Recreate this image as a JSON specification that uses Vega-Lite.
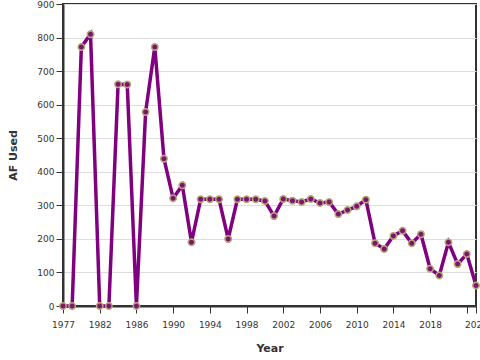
{
  "$schema": "https://vega.github.io/schema/vega-lite/v6.json",
  "autosize": "none",
  "padding": {"left": 63, "top": 4, "right": 4, "bottom": 54},
  "width": 413,
  "height": 302,
  "background": "white",
  "data": {"values": [
    {"Year": 1978, "AF": 0}, {"Year": 1979, "AF": 0}, {"Year": 1980, "AF": 772}, {"Year": 1981, "AF": 810},
    {"Year": 1982, "AF": 0}, {"Year": 1983, "AF": 0}, {"Year": 1984, "AF": 661}, {"Year": 1985, "AF": 660},
    {"Year": 1986, "AF": 0}, {"Year": 1987, "AF": 578}, {"Year": 1988, "AF": 772}, {"Year": 1989, "AF": 439},
    {"Year": 1990, "AF": 321}, {"Year": 1991, "AF": 360}, {"Year": 1992, "AF": 190}, {"Year": 1993, "AF": 318},
    {"Year": 1994, "AF": 318}, {"Year": 1995, "AF": 318}, {"Year": 1996, "AF": 200}, {"Year": 1997, "AF": 318},
    {"Year": 1998, "AF": 318}, {"Year": 1999, "AF": 318}, {"Year": 2000, "AF": 313}, {"Year": 2001, "AF": 268},
    {"Year": 2002, "AF": 319}, {"Year": 2003, "AF": 314}, {"Year": 2004, "AF": 310}, {"Year": 2005, "AF": 319},
    {"Year": 2006, "AF": 307}, {"Year": 2007, "AF": 310}, {"Year": 2008, "AF": 274}, {"Year": 2009, "AF": 286},
    {"Year": 2010, "AF": 297}, {"Year": 2011, "AF": 317}, {"Year": 2012, "AF": 187}, {"Year": 2013, "AF": 170},
    {"Year": 2014, "AF": 209}, {"Year": 2015, "AF": 224}, {"Year": 2016, "AF": 187}, {"Year": 2017, "AF": 214},
    {"Year": 2018, "AF": 111}, {"Year": 2019, "AF": 91}, {"Year": 2020, "AF": 190}, {"Year": 2021, "AF": 125},
    {"Year": 2022, "AF": 155}, {"Year": 2023, "AF": 61}
  ]},
  "config": {
    "view": {"stroke": "#333", "strokeWidth": 2},
    "axis": {
      "labelFont": "DejaVu Sans", "labelFontSize": 9, "labelColor": "#333", "labelOverlap": false, "labelBound": false, "labelFlush": false,
      "titleFont": "DejaVu Sans", "titleFontSize": 11, "titleFontWeight": "bold", "titleColor": "#333",
      "domainColor": "#333", "domainWidth": 2, "tickColor": "#333", "tickWidth": 1, "tickSize": 7,
      "gridColor": "#dddddd", "gridWidth": 1
    }
  },
  "encoding": {
    "x": {"field": "Year", "type": "quantitative",
      "scale": {"domain": [1978, 2023], "nice": false, "zero": false},
      "axis": {"grid": false, "title": "Year",
        "values": [1978, 1982, 1986, 1990, 1994, 1998, 2002, 2006, 2010, 2014, 2018, 2022, 2023],
        "labelExpr": "datum.value == 1978 ? '1977' : datum.value == 2023 ? '2022' : datum.value == 2022 ? '' : format(datum.value, 'd')",
        "labelPadding": 7, "titlePadding": 13}},
    "y": {"field": "AF", "type": "quantitative",
      "scale": {"domain": [0, 900], "nice": false},
      "axis": {"grid": true, "title": "AF Used", "values": [0,100,200,300,400,500,600,700,800,900], "labelPadding": 2, "titlePadding": 18}}
  },
  "layer": [
    {"mark": {"type": "line", "color": "#800080", "strokeWidth": 3.5, "clip": false}},
    {"mark": {"type": "point", "filled": true, "fill": "#7a1670", "stroke": "#b8a878", "strokeWidth": 1.5, "size": 42, "opacity": 1, "clip": false}}
  ]
}
